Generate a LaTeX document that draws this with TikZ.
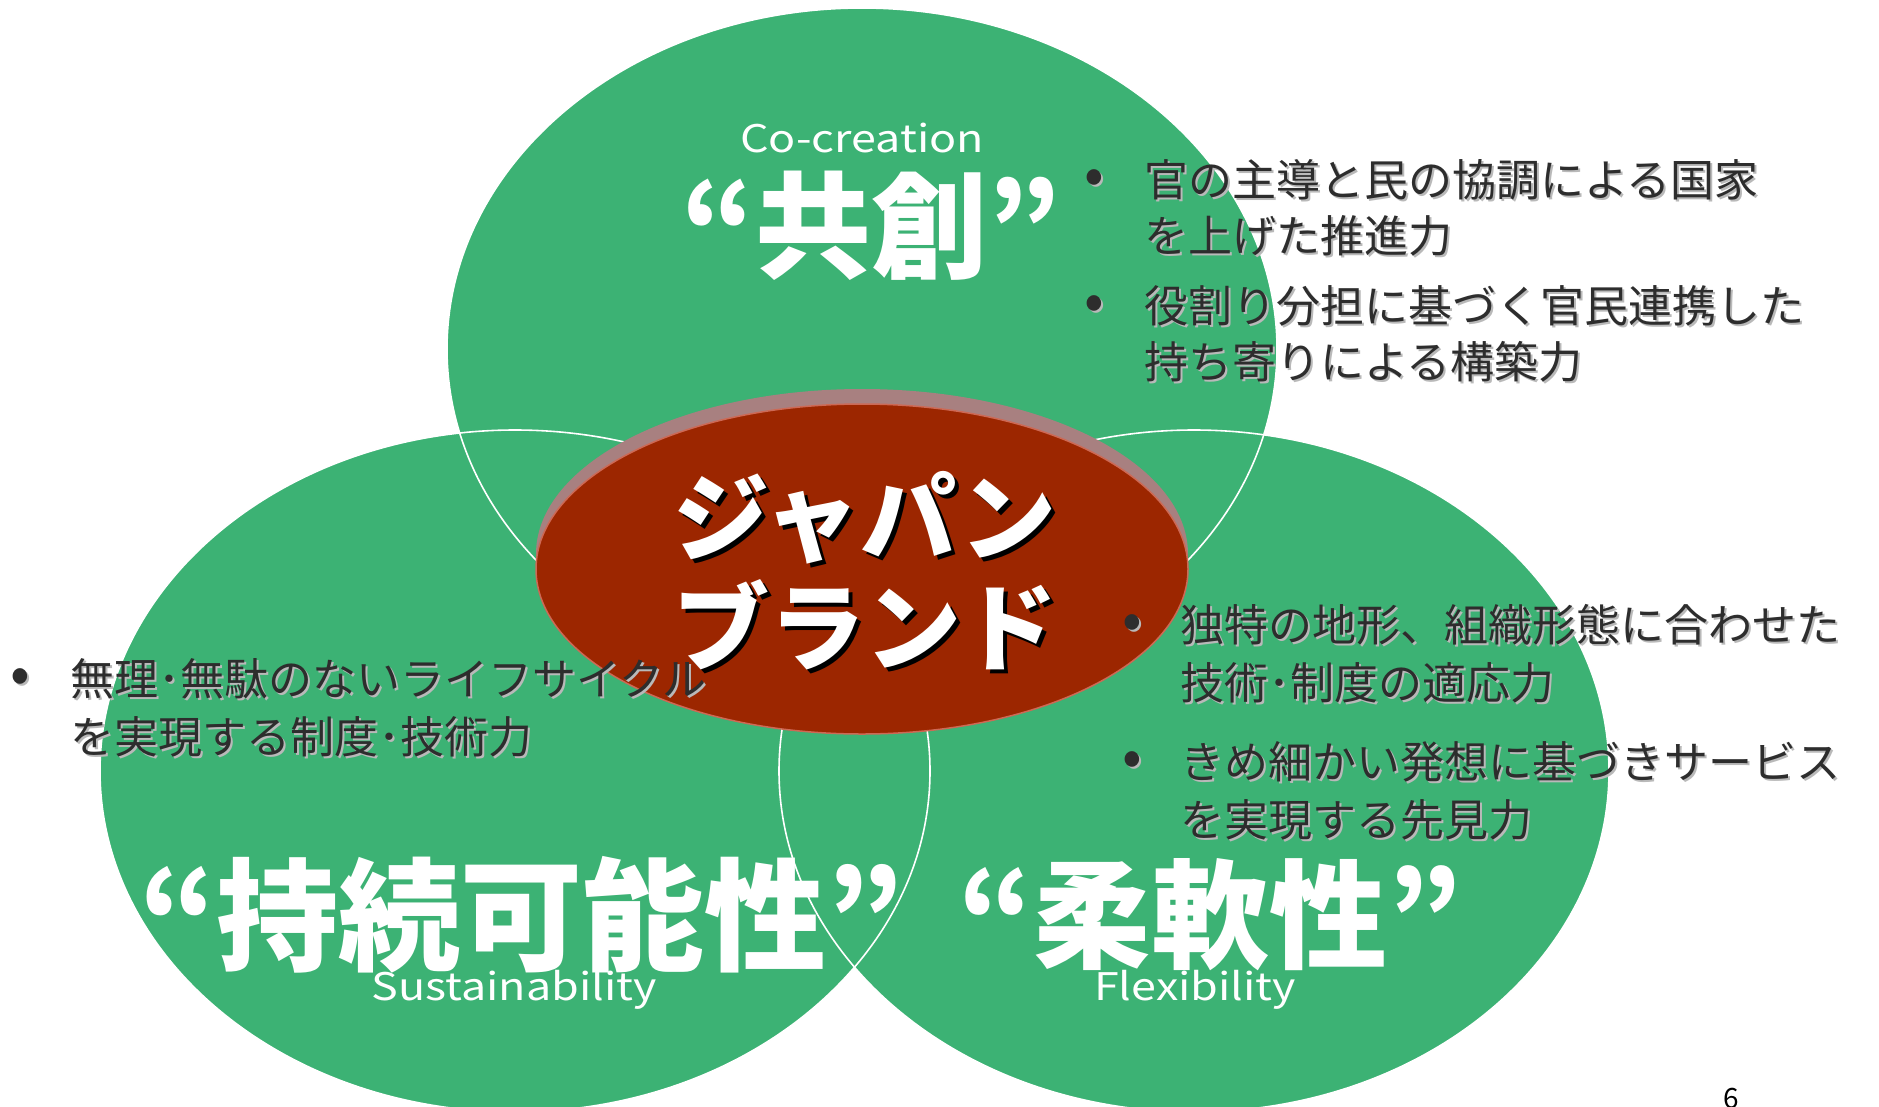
\documentclass[tikz,border=0pt]{standalone}
\usepackage{graphicx}
\usepackage{fontspec}
\setmainfont{Noto Sans CJK JP}
\definecolor{grn}{RGB}{60,178,116}
\definecolor{brn}{RGB}{156,38,0}
\definecolor{rimc}{RGB}{168,128,128}
\definecolor{edgec}{RGB}{205,105,85}
\definecolor{txt}{RGB}{45,45,45}
\definecolor{shd}{RGB}{185,185,185}
\newcommand\shtext[6]{% name, x, y, style, shadow offset, text
  \node[#4,text=shd] (#1s) at (#2+#5,#3+#5) {#6};
  \node[#4] (#1) at (#2,#3) {#6};}
\newcommand\wide[1]{\scalebox{1.18}[1]{#1}}
\begin{document}
\begin{tikzpicture}[x=1pt,y=-1pt,
  outl/.style={draw=white,line width=1.6pt},
  bul/.style={anchor=west,inner sep=0pt,font=\fontsize{44}{44}\selectfont,text=txt},
  dotc/.style={anchor=center,inner sep=0pt,font=\fontsize{58}{58}\selectfont,text=txt},
  bigt/.style={inner sep=0pt,text=white,font=\fontsize{122}{122}\selectfont\bfseries},
  engt/.style={inner sep=0pt,text=white,font=\fontsize{38}{38}\selectfont},
  jbt/.style={inner sep=0pt,text=white,font=\fontsize{96}{96}\selectfont\bfseries}]
\useasboundingbox (0,0) rectangle (1879,1106);
\clip (0,0) rectangle (1879,1106);
\fill[white] (0,0) rectangle (1879,1106);
% three green ellipses
\fill[grn] (862,349) ellipse [x radius=415, y radius=341];
\fill[grn] (515,771) ellipse [x radius=415, y radius=341];
\fill[grn] (1194,771) ellipse [x radius=415, y radius=341];
\draw[outl] (862,349) ellipse [x radius=415, y radius=341];
\draw[outl] (515,771) ellipse [x radius=415, y radius=341];
\draw[outl] (1194,771) ellipse [x radius=415, y radius=341];
% central 3D ellipse
\fill[rimc] (862,554) ellipse [x radius=326, y radius=165];
\fill[brn,draw=edgec,line width=1.5pt] (862,569) ellipse [x radius=326, y radius=165];
% titles
\node[engt] (cocr) at (862,138) {\wide{Co-creation}};
\node[bigt,font=\fontsize{116}{116}\selectfont\bfseries] (kyoso) at (871,226) {“共創”};
\node[bigt] (jizoku) at (521,915) {“持続可能性”};
\node[engt] (sust) at (514,990) {\wide{Sustainability}};
\node[bigt,font=\fontsize{118}{118}\selectfont\bfseries] (junan) at (1210,915) {“柔軟性”};
\node[engt] (flex) at (1195,990) {\wide{Flexibility}};
% centre text with black shadow
\node[jbt,text=black] (jpns) at (869,522) {ジャパン};
\node[jbt] (jpn) at (865,518) {ジャパン};
\node[jbt,text=black] (brds) at (869,629) {ブランド};
\node[jbt] (brd) at (865,625) {ブランド};
% top-right bullets
\shtext{d1}{1094}{182}{dotc}{2}{•}
\shtext{t1}{1144}{180}{bul}{2}{官の主導と民の協調による国家}
\shtext{t2}{1144}{236}{bul}{2}{を上げた推進力}
\shtext{d2}{1094}{308}{dotc}{2}{•}
\shtext{t3}{1144}{306}{bul}{2}{役割り分担に基づく官民連携した}
\shtext{t4}{1144}{362}{bul}{2}{持ち寄りによる構築力}
% left bullets
\shtext{d3}{20}{681}{dotc}{2}{•}
\shtext{l1}{70}{679}{bul}{2}{無理･無駄のないライフサイクル}
\shtext{l2}{70}{737}{bul}{2}{を実現する制度･技術力}
% right bullets
\shtext{d4}{1132}{627}{dotc}{2}{•}
\shtext{r1}{1180}{625}{bul}{2}{独特の地形、組織形態に合わせた}
\shtext{r2}{1180}{683}{bul}{2}{技術･制度の適応力}
\shtext{d5}{1132}{764}{dotc}{2}{•}
\shtext{r3}{1180}{762}{bul}{2}{きめ細かい発想に基づきサービス}
\shtext{r4}{1180}{820}{bul}{2}{を実現する先見力}
% page number
\node[anchor=north,inner sep=0pt,text=black,font=\fontsize{28}{28}\selectfont] (pg) at (1731,1088) {6};
\end{tikzpicture}
\end{document}
